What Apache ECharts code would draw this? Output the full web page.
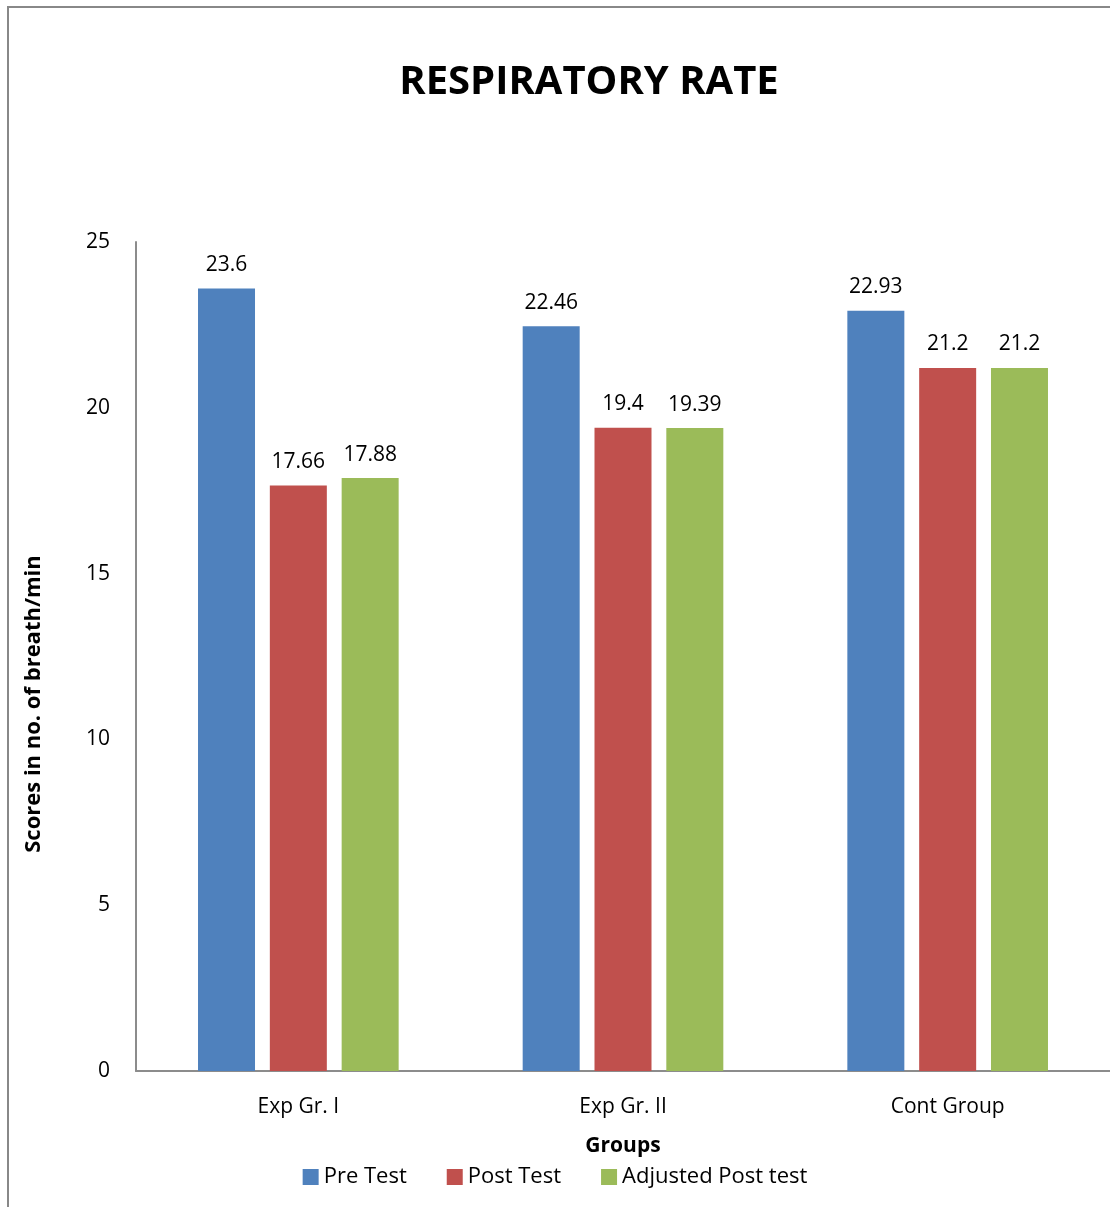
<!DOCTYPE html>
<html>
<head>
<meta charset="utf-8">
<script src="https://cdn.jsdelivr.net/npm/echarts@6/dist/echarts.min.js"></script>
<style>
  html, body { margin: 0; padding: 0; background: #fff; }
  #chart { width: 1110px; height: 1207px; }
</style>
</head>
<body>
<div id="chart"></div>
<script>
// data
var groups = ['Exp Gr. I', 'Exp Gr. II', 'Cont Group'];
var preTest = [23.6, 22.46, 22.93];
var postTest = [17.66, 19.4, 21.2];
var adjustedPost = [17.88, 19.39, 21.2];
var yTicks = [0, 5, 10, 15, 20, 25];

var chart = echarts.init(document.getElementById('chart'));
var font = '"Open Sans", sans-serif';

function barSeries(name, data, color) {
  return {
    name: name,
    type: 'bar',
    data: data,
    barWidth: 57,
    barGap: '26%',
    itemStyle: { color: color },
    label: {
      show: true,
      position: 'top',
      distance: 13,
      color: '#000',
      fontSize: 21,
      fontFamily: font
    }
  };
}

var option = {
  backgroundColor: '#fff',
  animation: false,
  title: {
    text: 'RESPIRATORY RATE',
    left: 584,
    top: 58,
    textAlign: 'center',
    textStyle: { fontSize: 40, fontWeight: 'bold', color: '#000', fontFamily: font }
  },
  legend: {
    bottom: 14,
    left: 'center',
    itemWidth: 16,
    itemHeight: 16,
    itemGap: 40,
    icon: 'rect',
    textStyle: { fontSize: 22, color: '#000', fontFamily: font }
  },
  grid: { left: 136, width: 980, top: 242, bottom: 136 },
  xAxis: {
    type: 'category',
    data: groups,
    name: 'Groups',
    nameLocation: 'middle',
    nameGap: 65,
    nameTextStyle: { fontSize: 21, fontWeight: 'bold', color: '#000', fontFamily: font },
    axisLine: { lineStyle: { color: '#8c8c8c', width: 2 } },
    axisTick: { show: false },
    axisLabel: { fontSize: 21, color: '#000', margin: 26, fontFamily: font }
  },
  yAxis: {
    type: 'value',
    min: yTicks[0],
    max: yTicks[yTicks.length - 1],
    interval: 5,
    splitLine: { show: false },
    axisLine: { show: true, lineStyle: { color: '#8c8c8c', width: 2 } },
    axisTick: { show: false },
    axisLabel: { fontSize: 21, color: '#000', margin: 26, fontFamily: font }
  },
  graphic: [
    {
      type: 'rect',
      shape: { x: 8, y: 7, width: 1120, height: 1220 },
      style: { fill: 'none', stroke: '#888', lineWidth: 2 },
      silent: true
    },
    {
      type: 'text',
      x: 34,
      y: 704,
      rotation: Math.PI / 2,
      style: {
        text: 'Scores in no. of breath/min',
        fontSize: 22,
        fontWeight: 'bold',
        fontFamily: font,
        fill: '#000',
        align: 'center',
        verticalAlign: 'middle'
      }
    }
  ],
  series: [
    barSeries('Pre Test', preTest, '#4f81bd'),
    barSeries('Post Test', postTest, '#c0504d'),
    barSeries('Adjusted Post test', adjustedPost, '#9bbb59')
  ]
};

chart.setOption(option);
</script>
</body>
</html>
